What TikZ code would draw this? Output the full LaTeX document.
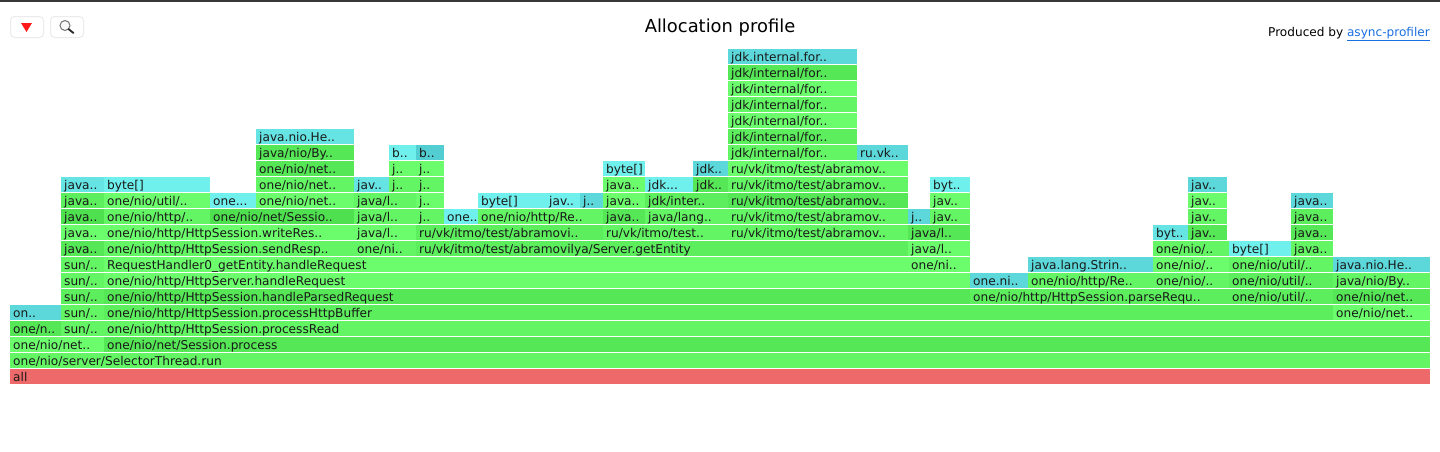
\documentclass[tikz,border=0pt]{standalone}
\usepackage{fontspec}
\setmainfont{DejaVu Sans}
\usetikzlibrary{positioning}
\definecolor{gA}{HTML}{6CFD6C}
\definecolor{gB}{HTML}{63F563}
\definecolor{gC}{HTML}{5CEE5C}
\definecolor{gD}{HTML}{55E755}
\definecolor{gE}{HTML}{4EE04E}
\definecolor{aA}{HTML}{70F0EC}
\definecolor{aB}{HTML}{66E4E4}
\definecolor{aC}{HTML}{5CD8DA}
\definecolor{aD}{HTML}{52CDD1}
\definecolor{allred}{HTML}{EE6A6A}
\definecolor{linkblue}{HTML}{1A6FE0}
\tikzset{
flame/.style={x=1pt,y=-1pt},
bar/.style={anchor=north west,minimum height=15pt,inner xsep=3pt,inner ysep=1.5pt,
  text height=10.5pt,text depth=1.5pt,align=left,font=\fontsize{12.15}{14}\selectfont,text=black!90},
button/.style={draw=black!8,fill=white,rounded corners=4pt,minimum width=33pt,minimum height=21pt,
  inner sep=0pt,anchor=north west,line width=1pt},
}
% name, left, right, row, colour, text
\newcommand{\frm}[6]{%
  \pgfmathsetmacro{\frmw}{#3-#2-6}%
  \node[bar,fill=#5,text width=\frmw pt] (#1) at (#2,{369-16*#4}) {#6};}
\begin{document}
\begin{tikzpicture}[flame]
\useasboundingbox (0,0) rectangle (1440,451);
\fill[black!78] (0,0) rectangle (1440,2);
\node[button] (menu) at (10,16) {};
\node[button] (search) at (50,16) {};
\fill[red!90!white] (21,23) -- (32,23) -- (26.5,32) -- cycle;
\draw[black!55,line width=1pt,fill=black!3] (65,25.5) circle (5);
\draw[black!85,line width=1.8pt,line cap=round] (68.5,29) -- (73.5,33);
\node[font=\fontsize{17.9}{20}\selectfont] (title) at (720,27.5) {Allocation profile};
\node[anchor=base east,inner sep=0pt,font=\fontsize{12.1}{14}\selectfont] (produced) at (1430,36) {Produced by \textcolor{linkblue}{\underline{async-profiler}}};
% row 0 to 3
\frm{r0a}{10}{1430}{0}{allred}{all}
\frm{r1a}{10}{1430}{1}{gB}{one/nio/server/SelectorThread.run}
\frm{r2a}{10}{104}{2}{gA}{one/nio/net..}
\frm{r2b}{104}{1430}{2}{gD}{one/nio/net/Session.process}
\frm{r3a}{10}{61}{3}{gD}{one/n..}
\frm{r3b}{61}{104}{3}{gB}{sun/..}
\frm{r3c}{104}{1430}{3}{gB}{one/nio/http/HttpSession.processRead}
% row 4 to 7
\frm{r4a}{10}{41}{4}{aC}{on..}
\frm{r4b}{41}{61}{4}{aC}{}
\frm{r4c}{61}{104}{4}{gB}{sun/..}
\frm{r4d}{104}{1333}{4}{gC}{one/nio/http/HttpSession.processHttpBuffer}
\frm{r4e}{1333}{1430}{4}{gA}{one/nio/net..}
\frm{r5a}{61}{104}{5}{gC}{sun/..}
\frm{r5b}{104}{970}{5}{gD}{one/nio/http/HttpSession.handleParsedRequest}
\frm{r5c}{970}{1229}{5}{gC}{one/nio/http/HttpSession.parseRequ..}
\frm{r5d}{1229}{1333}{5}{gC}{one/nio/util/..}
\frm{r5e}{1333}{1430}{5}{gD}{one/nio/net..}
\frm{r6a}{61}{104}{6}{gB}{sun/..}
\frm{r6b}{104}{970}{6}{gA}{one/nio/http/HttpServer.handleRequest}
\frm{r6c}{970}{1028}{6}{aC}{one.ni..}
\frm{r6d}{1028}{1153}{6}{gB}{one/nio/http/Re..}
\frm{r6e}{1153}{1229}{6}{gB}{one/nio/..}
\frm{r6f}{1229}{1333}{6}{gC}{one/nio/util/..}
\frm{r6g}{1333}{1430}{6}{gB}{java/nio/By..}
\frm{r7a}{61}{104}{7}{gB}{sun/..}
\frm{r7b}{104}{908}{7}{gA}{RequestHandler0\_getEntity.handleRequest}
\frm{r7c}{908}{970}{7}{gA}{one/ni..}
\frm{r7d}{1028}{1153}{7}{aC}{java.lang.Strin..}
\frm{r7e}{1153}{1229}{7}{gA}{one/nio/..}
\frm{r7f}{1229}{1333}{7}{gB}{one/nio/util/..}
\frm{r7g}{1333}{1430}{7}{aC}{java.nio.He..}
% row 8 to 11
\frm{r8a}{61}{104}{8}{gD}{java..}
\frm{r8b}{104}{354}{8}{gB}{one/nio/http/HttpSession.sendResp..}
\frm{r8c}{354}{416}{8}{gB}{one/ni..}
\frm{r8d}{416}{908}{8}{gC}{ru/vk/itmo/test/abramovilya/Server.getEntity}
\frm{r8e}{908}{970}{8}{gA}{java/l..}
\frm{r8f}{1153}{1229}{8}{gB}{one/nio/..}
\frm{r8g}{1229}{1291}{8}{aA}{byte[]}
\frm{r8h}{1291}{1333}{8}{gB}{java..}
\frm{r9a}{61}{104}{9}{gA}{java..}
\frm{r9b}{104}{354}{9}{gA}{one/nio/http/HttpSession.writeRes..}
\frm{r9c}{354}{416}{9}{gA}{java/l..}
\frm{r9d}{416}{603}{9}{gC}{ru/vk/itmo/test/abramovi..}
\frm{r9e}{603}{728}{9}{gB}{ru/vk/itmo/test..}
\frm{r9f}{728}{908}{9}{gB}{ru/vk/itmo/test/abramov..}
\frm{r9g}{908}{970}{9}{gD}{java/l..}
\frm{r9h}{1153}{1188}{9}{aB}{byt..}
\frm{r9i}{1188}{1227}{9}{gD}{jav..}
\frm{r9j}{1291}{1333}{9}{gD}{java..}
\frm{r10a}{61}{104}{10}{gE}{java..}
\frm{r10b}{104}{210}{10}{gB}{one/nio/http/..}
\frm{r10c}{210}{354}{10}{gE}{one/nio/net/Sessio..}
\frm{r10d}{354}{416}{10}{gB}{java/l..}
\frm{r10e}{416}{444}{10}{gB}{j..}
\frm{r10f}{444}{478}{10}{aA}{one..}
\frm{r10g}{478}{603}{10}{gB}{one/nio/http/Re..}
\frm{r10h}{603}{645}{10}{gD}{java..}
\frm{r10i}{645}{728}{10}{gB}{java/lang..}
\frm{r10j}{728}{908}{10}{gB}{ru/vk/itmo/test/abramov..}
\frm{r10k}{908}{930}{10}{aC}{j..}
\frm{r10l}{930}{970}{10}{gB}{jav..}
\frm{r10m}{1188}{1227}{10}{gB}{jav..}
\frm{r10n}{1291}{1333}{10}{gC}{java..}
\frm{r11a}{61}{104}{11}{gC}{java..}
\frm{r11b}{104}{210}{11}{gA}{one/nio/util/..}
\frm{r11c}{210}{256}{11}{aA}{one...}
\frm{r11d}{256}{354}{11}{gA}{one/nio/net..}
\frm{r11e}{354}{416}{11}{gB}{java/l..}
\frm{r11f}{416}{444}{11}{gA}{j..}
\frm{r11g}{478}{546}{11}{aA}{byte[]}
\frm{r11h}{546}{580}{11}{aA}{jav..}
\frm{r11i}{580}{603}{11}{aC}{j..}
\frm{r11j}{603}{645}{11}{gA}{java..}
\frm{r11k}{645}{728}{11}{gC}{jdk/inter..}
\frm{r11l}{728}{908}{11}{gD}{ru/vk/itmo/test/abramov..}
\frm{r11m}{930}{970}{11}{gA}{jav..}
\frm{r11n}{1188}{1227}{11}{gA}{jav..}
\frm{r11o}{1291}{1333}{11}{aC}{java..}
% row 12 to 20
\frm{r12a}{61}{104}{12}{aB}{java..}
\frm{r12b}{104}{210}{12}{aA}{byte[]}
\frm{r12c}{256}{354}{12}{gB}{one/nio/net..}
\frm{r12d}{354}{389}{12}{aB}{jav..}
\frm{r12e}{389}{416}{12}{gB}{j..}
\frm{r12f}{416}{444}{12}{gB}{j..}
\frm{r12g}{603}{645}{12}{gA}{java..}
\frm{r12h}{645}{693}{12}{aA}{jdk...}
\frm{r12i}{693}{728}{12}{gD}{jdk..}
\frm{r12j}{728}{908}{12}{gB}{ru/vk/itmo/test/abramov..}
\frm{r12k}{930}{970}{12}{aA}{byt..}
\frm{r12l}{1188}{1227}{12}{aC}{jav..}
\frm{r13a}{256}{354}{13}{gD}{one/nio/net..}
\frm{r13b}{389}{416}{13}{gA}{j..}
\frm{r13c}{416}{444}{13}{gA}{j..}
\frm{r13d}{603}{645}{13}{aA}{byte[]}
\frm{r13e}{693}{728}{13}{aC}{jdk..}
\frm{r13f}{728}{908}{13}{gA}{ru/vk/itmo/test/abramov..}
\frm{r14a}{256}{354}{14}{gD}{java/nio/By..}
\frm{r14b}{389}{416}{14}{aA}{b..}
\frm{r14c}{416}{444}{14}{aD}{b..}
\frm{r14d}{728}{857}{14}{gB}{jdk/internal/for..}
\frm{r14e}{857}{908}{14}{aC}{ru.vk..}
\frm{r15a}{256}{354}{15}{aB}{java.nio.He..}
\frm{r15b}{728}{857}{15}{gC}{jdk/internal/for..}
\frm{r16a}{728}{857}{16}{gA}{jdk/internal/for..}
\frm{r17a}{728}{857}{17}{gB}{jdk/internal/for..}
\frm{r18a}{728}{857}{18}{gA}{jdk/internal/for..}
\frm{r19a}{728}{857}{19}{gD}{jdk/internal/for..}
\frm{r20a}{728}{857}{20}{aC}{jdk.internal.for..}
\end{tikzpicture}
\end{document}
